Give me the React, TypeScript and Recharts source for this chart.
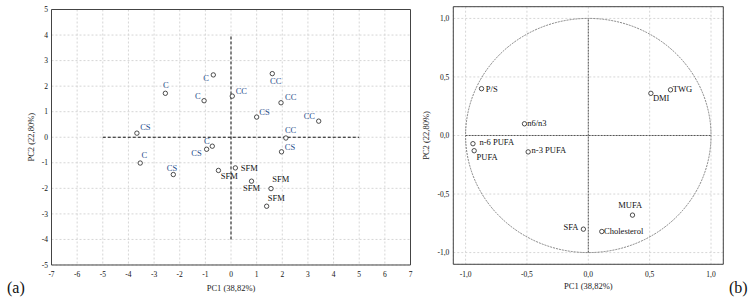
import {
  ScatterChart,
  Scatter,
  XAxis,
  YAxis,
  CartesianGrid,
  ReferenceLine,
  ReferenceArea,
} from "recharts";

// (a) PCA scores
const scoreGroups = [
  "CS", "C", "C", "C", "CC", "CC", "CC", "CS", "CC", "CC",
  "CS", "C", "CS", "CS", "C", "SFM", "SFM", "SFM", "SFM", "SFM",
];
const pc1Scores = [
  -3.67, -2.56, -0.69, -1.05, 0.05, 1.61, 1.95, 1.0, 3.42, 2.14,
  1.97, -3.54, -2.25, -0.95, -0.73, -0.49, 0.17, 0.8, 1.56, 1.39,
];
const pc2Scores = [
  0.16, 1.72, 2.44, 1.43, 1.61, 2.49, 1.35, 0.79, 0.63, -0.03,
  -0.57, -1.01, -1.46, -0.47, -0.35, -1.3, -1.2, -1.72, -2.01, -2.7,
];
const pc1ScoreTicks = [-7, -6, -5, -4, -3, -2, -1, 0, 1, 2, 3, 4, 5, 6, 7];
const pc2ScoreTicks = [-5, -4, -3, -2, -1, 0, 1, 2, 3, 4, 5];

// (b) PCA loadings
const loadingNames = [
  "P/S", "n6/n3", "DMI", "TWG", "n-6 PUFA", "PUFA", "n-3 PUFA", "MUFA", "SFA", "Cholesterol",
];
const pc1Loadings = [-0.87, -0.52, 0.51, 0.67, -0.94, -0.93, -0.49, 0.36, -0.04, 0.11];
const pc2Loadings = [0.4, 0.1, 0.36, 0.39, -0.07, -0.13, -0.14, -0.68, -0.8, -0.82];
const loadingTicks = [-1, -0.5, 0, 0.5, 1];

// label placement next to each point: [dx, dy, anchor]
const scoreLabelPos: [number, number, string][] = [
  [3.3, -3.3, "start"], [0.5, -5.2, "middle"], [-4.3, 6.5, "end"], [-3.3, -1.5, "end"],
  [3.4, -2.3, "start"], [3.5, 10, "middle"], [4, -2.3, "start"], [2.6, -1.6, "start"],
  [-3.7, -2.3, "end"], [-1, -4.7, "start"], [3.3, -1.7, "start"], [4, -5.3, "middle"],
  [-1.3, -4, "middle"], [-5, 6.4, "end"], [-5.5, -2.6, "middle"], [2.4, 8.7, "start"],
  [5.4, 3, "start"], [0, 9.7, "middle"], [9.7, -6.3, "middle"], [9.6, -5.3, "middle"],
];
const loadingLabelPos: [number, number, string][] = [
  [4.3, 3, "start"], [2.7, 2.4, "start"], [2, 8, "start"], [2.3, 2, "start"],
  [6.6, 1.4, "start"], [2.4, 9, "start"], [3.4, 1.3, "start"], [-2.2, -6.7, "middle"],
  [-5, 0.4, "end"], [2.3, 2.3, "start"],
];

const serif = "Liberation Serif, Times New Roman, serif";
const frame = "#444";
const blue = "#1f4e8c";
const thin = 0.01;

const minor = (from: number, to: number, step: number) => {
  const out: number[] = [];
  for (let v = from; v <= to + 1e-9; v += step) out.push(+v.toFixed(3));
  return out;
};

const scoreData = pc1Scores.map((x, i) => ({
  x,
  y: pc2Scores[i],
  name: scoreGroups[i],
  pos: scoreLabelPos[i],
  color: scoreGroups[i] === "SFM" ? "#111" : blue,
}));
const loadingData = pc1Loadings.map((x, i) => ({
  x,
  y: pc2Loadings[i],
  name: loadingNames[i],
  pos: loadingLabelPos[i],
  color: "#111",
}));

const tickStyle = { fontFamily: serif, fontSize: 7.5, fill: "#111" };
const comma = (v: number) => v.toFixed(1).replace(".", ",");

const PointShape = (props: any) => {
  const { cx, cy, payload } = props;
  const [dx, dy, anchor] = payload.pos;
  return (
    <g>
      <circle cx={cx} cy={cy} r={2.2} fill="#fff" stroke="#222" strokeWidth={0.8} />
      <text
        x={cx + dx}
        y={cy + dy}
        textAnchor={anchor}
        fontFamily={serif}
        fontSize={8.5}
        fill={payload.color}
      >
        {payload.name}
      </text>
    </g>
  );
};

const xTitle = (dy: number) => (p: any) => {
  const vb = p.viewBox;
  return (
    <text
      x={vb.x + vb.width / 2}
      y={vb.y + dy}
      textAnchor="middle"
      fontFamily={serif}
      fontSize={8.5}
      fill="#222"
    >
      PC1 (38,82%)
    </text>
  );
};
const yTitle = (dx: number) => (p: any) => {
  const vb = p.viewBox;
  const x = vb.x - dx;
  const y = vb.y + vb.height / 2;
  return (
    <text
      x={x}
      y={y}
      transform={`rotate(-90 ${x} ${y})`}
      textAnchor="middle"
      dominantBaseline="central"
      fontFamily={serif}
      fontSize={8.5}
      fill="#222"
    >
      PC2 (22,80%)
    </text>
  );
};

const frameAxes = (xd: number[], yd: number[], xm: number[], ym: number[]) => [
  <XAxis key="xb" xAxisId="b" type="number" domain={xd} ticks={xm} interval={0} allowDataOverflow
    height={thin} mirror axisLine={false} tick={false} tickSize={2.5} tickLine={{ stroke: frame }} />,
  <XAxis key="xt" xAxisId="t" orientation="top" type="number" domain={xd} ticks={xm} interval={0}
    allowDataOverflow height={thin} mirror axisLine={{ stroke: frame }} tick={false} tickSize={2.5}
    tickLine={{ stroke: frame }} />,
  <YAxis key="yl" yAxisId="l" type="number" domain={yd} ticks={ym} interval={0} allowDataOverflow
    width={thin} mirror axisLine={false} tick={false} tickSize={2.5} tickLine={{ stroke: frame }} />,
  <YAxis key="yr" yAxisId="r" orientation="right" type="number" domain={yd} ticks={ym} interval={0}
    allowDataOverflow width={thin} mirror axisLine={{ stroke: frame }} tick={false} tickSize={2.5}
    tickLine={{ stroke: frame }} />,
];

const ScoresChart = () => (
  <ScatterChart width={418} height={301} margin={{ top: 9.5, right: 7.5, bottom: 36, left: 51.5 }}>
    <CartesianGrid xAxisId="m" yAxisId="m" stroke="#d6d6d6" strokeDasharray="2 2" />
    {frameAxes([-7, 7], [-5, 5], minor(-7, 7, 0.25), minor(-5, 5, 0.25))}
    <XAxis xAxisId="m" type="number" dataKey="x" domain={[-7, 7]} ticks={pc1ScoreTicks} interval={0}
      allowDataOverflow height={thin} axisLine={{ stroke: frame }} tickLine={false} tickSize={4}
      tickMargin={3} tick={tickStyle} label={{ content: xTitle(26) }} />
    <YAxis yAxisId="m" type="number" dataKey="y" domain={[-5, 5]} ticks={pc2ScoreTicks} interval={0}
      allowDataOverflow width={thin} axisLine={{ stroke: frame }} tickLine={false} tickSize={2}
      tickMargin={1.5} tick={tickStyle} label={{ content: yTitle(20) }} />
    <ReferenceLine xAxisId="m" yAxisId="m" segment={[{ x: -5, y: 0 }, { x: 5, y: 0 }]}
      stroke="#111" strokeDasharray="3 2" />
    <ReferenceLine xAxisId="m" yAxisId="m" segment={[{ x: 0, y: -4 }, { x: 0, y: 4 }]}
      stroke="#111" strokeDasharray="3 2" />
    <Scatter xAxisId="m" yAxisId="m" data={scoreData} shape={PointShape} isAnimationActive={false} />
  </ScatterChart>
);

const UnitCircle = (p: any) => (
  <ellipse
    cx={p.x + p.width / 2}
    cy={p.y + p.height / 2}
    rx={Math.abs(p.width) / 2}
    ry={Math.abs(p.height) / 2}
    fill="none"
    stroke="#666"
    strokeWidth={0.8}
    strokeDasharray="2 1"
  />
);

const LoadingsChart = () => (
  <ScatterChart width={332} height={301} margin={{ top: 6.7, right: 26.7, bottom: 36.7, left: 35.3 }}>
    <CartesianGrid xAxisId="m" yAxisId="m" stroke="#d6d6d6" strokeDasharray="2 2" />
    {frameAxes([-1.1, 1.1], [-1.1, 1.1], minor(-1.1, 1.1, 0.1), minor(-1.1, 1.1, 0.1))}
    <XAxis xAxisId="m" type="number" dataKey="x" domain={[-1.1, 1.1]} ticks={loadingTicks}
      interval={0} allowDataOverflow height={thin} axisLine={{ stroke: frame }} tickLine={false}
      tickSize={4} tickMargin={3} tick={tickStyle} tickFormatter={comma}
      label={{ content: xTitle(25) }} />
    <YAxis yAxisId="m" type="number" dataKey="y" domain={[-1.1, 1.1]} ticks={loadingTicks}
      interval={0} allowDataOverflow width={thin} axisLine={{ stroke: frame }} tickLine={false}
      tickSize={2} tickMargin={2} tick={tickStyle} tickFormatter={comma}
      label={{ content: yTitle(27) }} />
    <ReferenceArea xAxisId="m" yAxisId="m" x1={-1} x2={1} y1={-1} y2={1} shape={UnitCircle} />
    <ReferenceLine xAxisId="m" yAxisId="m" segment={[{ x: -1, y: 0 }, { x: 1, y: 0 }]}
      stroke="#555" strokeDasharray="2 1" />
    <ReferenceLine xAxisId="m" yAxisId="m" segment={[{ x: 0, y: -1 }, { x: 0, y: 1 }]}
      stroke="#555" strokeDasharray="2 1" />
    <Scatter xAxisId="m" yAxisId="m" data={loadingData} shape={PointShape} isAnimationActive={false} />
  </ScatterChart>
);

const panelTag = {
  position: "absolute" as const,
  top: 280,
  fontFamily: serif,
  fontSize: 16,
  lineHeight: "16px",
  color: "#111",
};

export default function App() {
  return (
    <div style={{ position: "absolute", left: 0, top: 0, width: 750, height: 301, background: "#fff" }}>
      <div style={{ position: "absolute", left: 0, top: 0 }}>
        <ScoresChart />
      </div>
      <div style={{ position: "absolute", left: 418, top: 0 }}>
        <LoadingsChart />
      </div>
      <div style={{ ...panelTag, left: 7 }}>(a)</div>
      <div style={{ ...panelTag, left: 729 }}>(b)</div>
    </div>
  );
}
